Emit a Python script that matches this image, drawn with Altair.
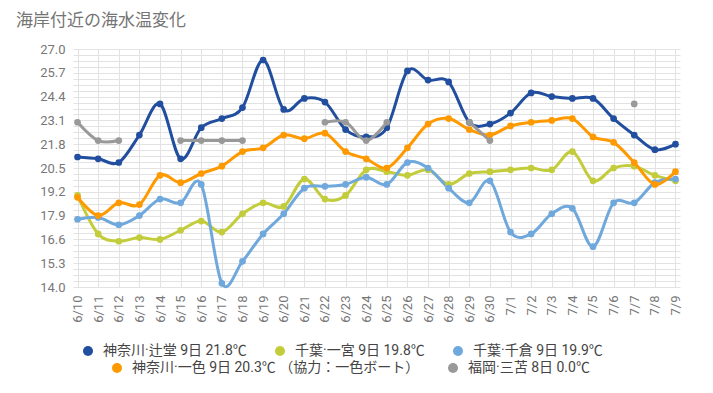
import altair as alt
import pandas as pd

title_text = "海岸付近の海水温変化"

dates = ["6/10", "6/11", "6/12", "6/13", "6/14", "6/15", "6/16", "6/17", "6/18", "6/19",
         "6/20", "6/21", "6/22", "6/23", "6/24", "6/25", "6/26", "6/27", "6/28", "6/29",
         "6/30", "7/1", "7/2", "7/3", "7/4", "7/5", "7/6", "7/7", "7/8", "7/9"]

tsujido = [21.1, 21.0, 20.8, 22.3, 24.0, 21.0, 22.7, 23.2, 23.8, 26.4,
           23.7, 24.3, 24.1, 22.6, 22.2, 22.7, 25.8, 25.3, 25.2, 23.0,
           22.9, 23.5, 24.6, 24.4, 24.3, 24.3, 23.2, 22.3, 21.5, 21.8]
ichinomiya = [19.0, 16.9, 16.5, 16.7, 16.6, 17.1, 17.6, 17.0, 18.0, 18.6,
              18.4, 19.9, 18.8, 19.0, 20.4, 20.3, 20.1, 20.4, 19.6, 20.2,
              20.3, 20.4, 20.5, 20.4, 21.4, 19.8, 20.5, 20.6, 20.1, 19.8]
chikura = [17.7, 17.8, 17.4, 17.9, 18.8, 18.6, 19.6, 14.2, 15.4, 16.9,
           18.0, 19.4, 19.5, 19.6, 20.0, 19.6, 20.8, 20.5, 19.4, 18.6,
           19.8, 17.0, 16.9, 18.0, 18.3, 16.2, 18.6, 18.6, 19.7, 19.9]
isshiki = [18.9, 17.9, 18.6, 18.5, 20.1, 19.7, 20.2, 20.6, 21.4, 21.6,
           22.3, 22.1, 22.4, 21.4, 21.0, 20.5, 21.6, 22.9, 23.2, 22.6,
           22.3, 22.8, 23.0, 23.1, 23.2, 22.2, 21.9, 20.8, 19.6, 20.3]
mitoma = [23.0, 22.0, 22.0, None, None, 22.0, 22.0, 22.0, 22.0, None,
          None, None, 23.0, 23.0, 22.0, 23.0, None, None, None, 23.0,
          22.0, None, None, None, None, None, None, 24.0, None, None]

series_names = ["神奈川·辻堂 9日 21.8℃", "千葉·一宮 9日 19.8℃", "千葉·千倉 9日 19.9℃",
                "神奈川·一色 9日 20.3℃ （協力：一色ボート）", "福岡·三苫 8日 0.0℃"]
series_values = [tsujido, ichinomiya, chikura, isshiki, mitoma]
colors = ["#214e9e", "#c3cc3b", "#6fa8dc", "#ff9900", "#999999"]

y_major = [14.0, 15.3, 16.6, 17.9, 19.2, 20.5, 21.8, 23.1, 24.4, 25.7, 27.0]
y_grid = []
for a, b in zip(y_major[:-1], y_major[1:]):
    for k in range(4):
        y_grid.append(round(a + (b - a) * k / 4, 3))
y_grid.append(y_major[-1])

rows = []
for name, vals in zip(series_names, series_values):
    for d, v in zip(dates, vals):
        rows.append({"date": d, "series": name, "temp": v})
df = pd.DataFrame(rows)

FONT = "Roboto, 'Noto Sans CJK JP', sans-serif"
GRID = "#e2e2e2"

x_enc = alt.X("date:N", sort=dates,
              scale=alt.Scale(type="point", padding=0.22),
              axis=alt.Axis(title=None, labelAngle=270, ticks=False, domain=False,
                            grid=True, gridColor=GRID, labelPadding=8,
                            labelFontSize=13, labelColor="#777777", labelFont=FONT))
y_enc = alt.Y("temp:Q",
              scale=alt.Scale(domain=[14, 27], nice=False, zero=False),
              axis=alt.Axis(title=None, values=y_grid, ticks=False, domain=False,
                            gridColor=GRID, labelPadding=8, labelOverlap=False,
                            labelFlush=False, labelFontSize=13, labelColor="#777777",
                            labelFont=FONT,
                            labelExpr="abs((datum.value-14)/1.3 - round((datum.value-14)/1.3)) < 0.01 ? format(datum.value, '.1f') : ''"))


def group_layer(idx, lx, ly):
    names = [series_names[i] for i in idx]
    cols = [colors[i] for i in idx]
    sub = df[df["series"].isin(names)]
    color = alt.Color("series:N",
                      scale=alt.Scale(domain=names, range=cols),
                      legend=alt.Legend(title=None, orient="none", legendX=lx, legendY=ly,
                                        direction="horizontal", symbolType="circle",
                                        symbolSize=100, symbolStrokeWidth=0,
                                        labelFontSize=14, labelColor="#444444",
                                        labelFont=FONT, columnPadding=26, labelOffset=8,
                                        labelLimit=400))
    base = alt.Chart(sub).encode(x=x_enc, y=y_enc, color=color)
    line = base.mark_line(interpolate="cardinal", strokeWidth=3,
                          invalid="break-paths-show-domains")
    pts = base.mark_point(filled=True, size=45, opacity=1).transform_filter(
        "isValid(datum.temp)")
    return alt.layer(line, pts)


layer_a = group_layer([0, 1, 2], 8, 295)
layer_b = group_layer([3, 4], 37, 312)

title_layer = alt.Chart(pd.DataFrame({"t": [title_text]})).mark_text(
    align="left", baseline="alphabetic", fontSize=17, color="#757575",
    font="'Noto Sans CJK JP', sans-serif"
).encode(x=alt.value(-57), y=alt.value(-23), text="t:N")

chart = alt.layer(layer_a, layer_b, title_layer).resolve_scale(color="independent").properties(
    width=607, height=238,
    autosize=alt.AutoSizeParams(type="none"),
    padding={"left": 65, "top": 41, "right": 25, "bottom": 90},
).configure_view(stroke=None)

chart.save("out.html", embed_options={"renderer": "svg", "actions": False})
